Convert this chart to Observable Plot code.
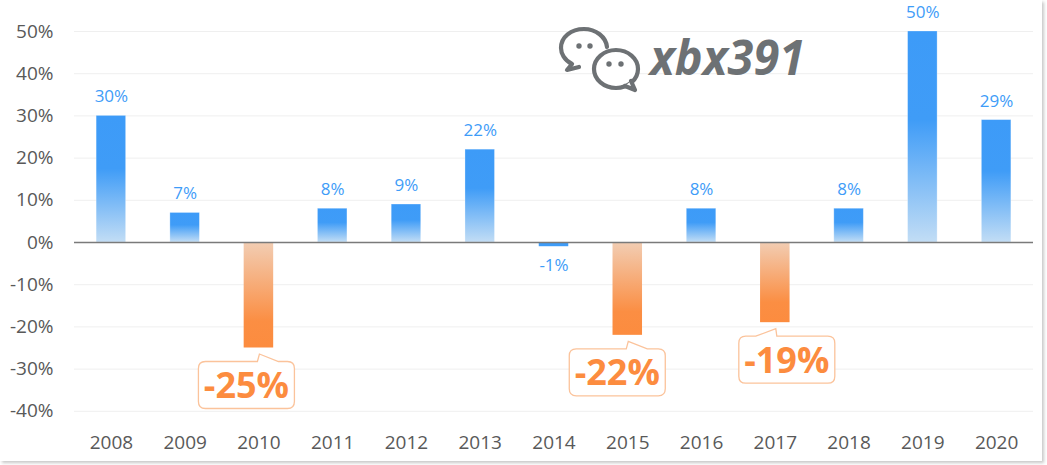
<!DOCTYPE html>
<html>
<head>
<meta charset="utf-8">
<script src="https://cdn.jsdelivr.net/npm/d3@7"></script>
<script src="https://cdn.jsdelivr.net/npm/@observablehq/plot@0.6"></script>
<style>
  html, body { margin: 0; padding: 0; background: #fff; }
  #wrap { position: relative; width: 1047px; height: 465px; overflow: hidden; background: #fff; }
  #frame { position: absolute; left: 0; top: 0; width: 1042px; height: 461px; box-shadow: 2px 2px 3px #c8c8c8; pointer-events: none; }
  #wm { position: absolute; left: 552px; top: 22px; }
</style>
</head>
<body>
<div id="wrap">
  <div id="chart"></div>
  <div id="frame"></div>
  <div id="wm">
    <svg width="270" height="72" viewBox="0 0 270 72">
      <g fill="none" stroke="#6d7174" stroke-width="4.2" stroke-linejoin="round" stroke-linecap="round">
        <path d="M20,42 C12,38 9,31 9,26 C9,15 19,7 32,7 C44,7 54,15 55,25 M20,42 L15,48 L27,45"/>
        <ellipse cx="64" cy="47" rx="22" ry="19" fill="#fff"/>
        <path d="M73,64 L83,68 L79,59" fill="#fff"/>
      </g>
      <g fill="#6d7174">
        <circle cx="27" cy="24" r="2.7"/>
        <circle cx="38" cy="24" r="2.7"/>
        <circle cx="57" cy="42" r="2.7"/>
        <circle cx="69" cy="42" r="2.7"/>
      </g>
      <text x="98" y="53" font-family="Open Sans" font-weight="bold" font-style="italic" font-size="48" fill="#6d7174" textLength="155" lengthAdjust="spacingAndGlyphs">xbx391</text>
    </svg>
  </div>
</div>
<script>
const years = ["2008","2009","2010","2011","2012","2013","2014","2015","2016","2017","2018","2019","2020"];
const values = [30, 7, -25, 8, 9, 22, -1, -22, 8, -19, 8, 50, 29];
const yTicks = [-40, -30, -20, -10, 0, 10, 20, 30, 40, 50];
const calloutYears = ["2010", "2015", "2017"];

const data = years.map((year, i) => ({year, value: values[i]}));
const pos = data.filter(d => d.value >= 0);
const smallNeg = data.filter(d => d.value < 0 && !calloutYears.includes(d.year));
const bigNeg = data.filter(d => calloutYears.includes(d.year));

// style: horizontal shift of each callout box relative to its bar
const calloutShift = {"2010": -12, "2015": -10, "2017": 12};

const BLUE = "#3e9cf8";
const ORANGE = "#fc8c3f";
const FONT = "Open Sans";

const defs = () => {
  const g = d3.create("svg:defs");
  const b = g.append("linearGradient").attr("id", "blueGrad").attr("x1", 0).attr("y1", 0).attr("x2", 0).attr("y2", 1);
  b.append("stop").attr("offset", 0).attr("stop-color", "#3d9bf8");
  b.append("stop").attr("offset", 0.42).attr("stop-color", "#3f9cf7");
  b.append("stop").attr("offset", 1).attr("stop-color", "#c2ddf5");
  const o = g.append("linearGradient").attr("id", "orangeGrad").attr("x1", 0).attr("y1", 0).attr("x2", 0).attr("y2", 1);
  o.append("stop").attr("offset", 0).attr("stop-color", "#f2cdb3");
  o.append("stop").attr("offset", 0.75).attr("stop-color", "#fb8e43");
  o.append("stop").attr("offset", 1).attr("stop-color", "#fc8c3f");
  return g.node();
};

const calloutMark = (index, scales) => {
  const sx = scales.x, sy = scales.y;
  const bw = typeof sx.bandwidth === "function" ? sx.bandwidth() : (sx.bandwidth || 0);
  const g = d3.create("svg:g");
  const W = 96, H = 47, r = 7, fs = 36;
  for (const d of bigNeg) {
    const cx = sx(d.year) + bw / 2;
    const yb = sy(d.value);
    const shift = calloutShift[d.year] || 0;
    const top = yb + 14;
    const left = cx + shift - W / 2, right = left + W, bottom = top + H;
    const tipX = cx + 1, tipY = yb + 6.5;
    let p1, p2;
    if (shift <= 0) { p1 = cx - 1; p2 = cx + 20; } else { p1 = cx - 19; p2 = cx + 2; }
    const path = [
      `M${left + r},${top}`,
      `L${p1},${top}`,
      `L${tipX},${tipY}`,
      `L${p2},${top}`,
      `L${right - r},${top}`,
      `Q${right},${top} ${right},${top + r}`,
      `L${right},${bottom - r}`,
      `Q${right},${bottom} ${right - r},${bottom}`,
      `L${left + r},${bottom}`,
      `Q${left},${bottom} ${left},${bottom - r}`,
      `L${left},${top + r}`,
      `Q${left},${top} ${left + r},${top}`,
      "Z"
    ].join(" ");
    g.append("path").attr("d", path).attr("fill", "#fff").attr("stroke", "#fbc39b").attr("stroke-width", 1.3);
    g.append("text")
      .attr("x", left + W / 2)
      .attr("y", top + H / 2 + 0.357 * fs)
      .attr("text-anchor", "middle")
      .attr("font-family", FONT)
      .attr("font-weight", "bold")
      .attr("font-size", fs)
      .attr("fill", ORANGE)
      .text(d.value + "%");
  }
  return g.node();
};

const chart = Plot.plot({
  width: 1047,
  height: 465,
  marginTop: 31,
  marginBottom: 54.2,
  marginLeft: 74,
  marginRight: 14,
  style: {fontFamily: FONT, background: "transparent"},
  x: {domain: years, paddingInner: 0.6, paddingOuter: 0.3, round: false, label: null},
  y: {domain: [-40, 50], label: null},
  marks: [
    defs,
    Plot.gridY(yTicks, {stroke: "#efefef", strokeOpacity: 1}),
    Plot.axisY({ticks: yTicks, tickFormat: d => d + "%", tickSize: 0, tickPadding: 21, fontSize: 19, fill: "#595959", label: null}),
    Plot.axisX({tickSize: 0, tickPadding: 24, fontSize: 19, fill: "#595959", label: null}),
    Plot.barY(pos, {x: "year", y: "value", fill: "url(#blueGrad)", stroke: "#ffffff", strokeOpacity: 0.35, strokeWidth: 0.8}),
    Plot.barY(smallNeg, {x: "year", y: "value", fill: BLUE}),
    Plot.barY(bigNeg, {x: "year", y: "value", fill: "url(#orangeGrad)"}),
    Plot.ruleY([0], {stroke: "#7a7a7a", strokeWidth: 1.6}),
    Plot.text(pos, {x: "year", y: "value", text: d => d.value + "%", dy: -19, lineAnchor: "middle", fill: BLUE, fontSize: 17}),
    Plot.text(smallNeg, {x: "year", y: "value", text: d => d.value + "%", dy: 19, lineAnchor: "middle", fill: BLUE, fontSize: 17}),
    calloutMark
  ]
});
document.getElementById("chart").appendChild(chart);
</script>
</body>
</html>
